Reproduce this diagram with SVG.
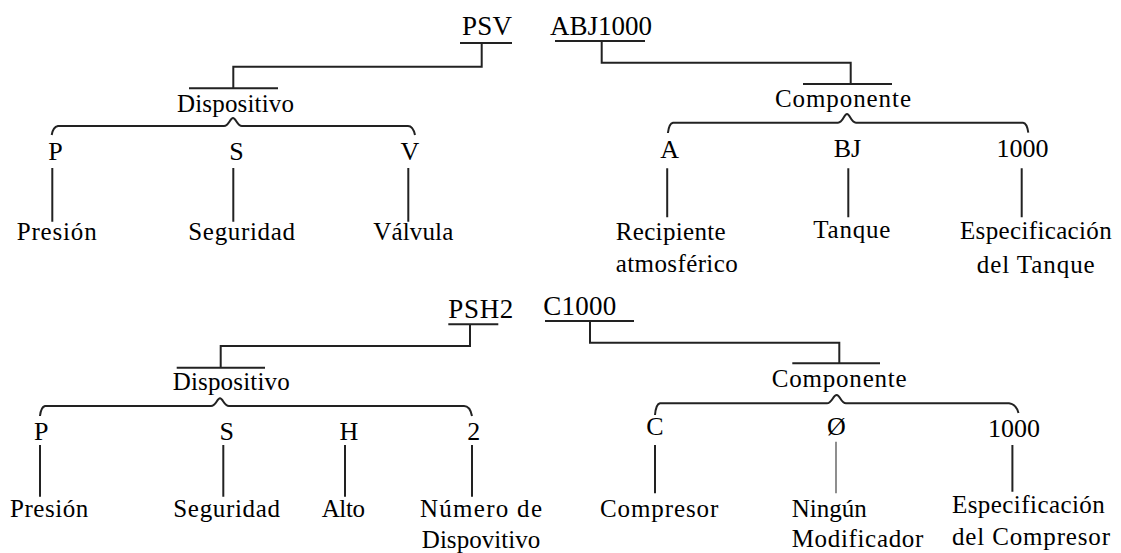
<svg xmlns="http://www.w3.org/2000/svg" width="1121" height="553" viewBox="0 0 1121 553" font-family="Liberation Serif, DejaVu Serif, serif">
<style>
text{font-family:'Liberation Serif','DejaVu Serif',serif;fill:#000;font-size:25px}
.code{font-size:27px}
.let{font-size:26px;text-anchor:middle}
.ln{stroke:#222;stroke-width:2;fill:none}
.thin{stroke:#444;stroke-width:1.2;fill:none}
</style>
<rect width="1121" height="553" fill="#fff"/>
<g id="connectors">
<path class="ln" d="M460,43H512M481.7,43V66.7H233.3V88.3M189,88.3H278"/>
<path class="ln" d="M555,41H645M601.7,41V62.7H850.7V84M803,84H892"/>
<path class="ln" d="M51.7,135Q53,127 58,126H224C229,126 230,118 233,118C236,118 237,126 242,126H408Q413,126 415,135"/>
<path class="ln" d="M667.9,133Q669,123.5 673,122.7H838C843,122.7 844,114 847,114C850,114 851,122.7 856,122.7H1023Q1027,123 1028.3,132.7"/>
<path class="ln" d="M52.3,168V221.7M233.3,168V221.7M408.3,168V221.7"/>
<path class="ln" d="M667.2,168.3V217.3M848.3,168.3V217.3M1021.7,168.3V217.3"/>
<path class="ln" d="M448.3,324.3H498.3M470,324.3V346H220.7V367.7M176.7,367.7H265"/>
<path class="ln" d="M545,321H634M590,321V342.7H839.3V363.3M792.3,363.3H880"/>
<path class="ln" d="M40,416Q41,407 45,406H211C216,406 217,398.3 220,398.3C223,398.3 224,406 229,406H464Q470,406 472,416"/>
<path class="ln" d="M655,415Q656,404 660,403.3H827C832,403.3 833,395 836.7,395C840,395 841,403.3 846,403.3H1009Q1016,404 1018.5,413"/>
<path class="ln" d="M40,445V496.7M223.3,445V496.7M345,445V496.7M472,445V496.7"/>
<path class="ln" d="M655,445V493.3M1012.4,445V491.7"/>
<path class="thin" d="M836,441.7V493.3"/>
</g>
<g id="n-psv"><text class="code" x="462" y="35" textLength="50">PSV</text></g>
<g id="n-abj1000"><text class="code" x="550" y="35" textLength="102">ABJ1000</text></g>
<g id="n-dispositivo1"><text x="177" y="111.7" textLength="117">Dispositivo</text></g>
<g id="n-componente1"><text x="775" y="106.7" textLength="136">Componente</text></g>
<g id="n-p1"><text class="let" x="55.5" y="160">P</text></g>
<g id="n-s1"><text class="let" x="236.5" y="160">S</text></g>
<g id="n-v1"><text class="let" x="410" y="160">V</text></g>
<g id="n-a"><text class="let" x="669.7" y="158.3">A</text></g>
<g id="n-bj"><text class="let" x="847.5" y="156.7">BJ</text></g>
<g id="n-1000a"><text class="let" x="1022.5" y="156.7">1000</text></g>
<g id="n-presion1"><text x="16.7" y="240" textLength="80">Presión</text></g>
<g id="n-seguridad1"><text x="188.3" y="240" textLength="106.7">Seguridad</text></g>
<g id="n-valvula"><text x="373.3" y="240" textLength="80">Válvula</text></g>
<g id="n-recipiente"><text x="615.7" y="240" textLength="110">Recipiente</text><text x="615.7" y="271.7" textLength="122">atmosférico</text></g>
<g id="n-tanque"><text x="813.3" y="238.3" textLength="77">Tanque</text></g>
<g id="n-espec1"><text x="960" y="239" textLength="151.7">Especificación</text><text x="976.7" y="273.3" textLength="118">del Tanque</text></g>
<g id="n-psh2"><text class="code" x="448.3" y="318.3" textLength="65">PSH2</text></g>
<g id="n-c1000"><text class="code" x="543.3" y="315" textLength="73">C1000</text></g>
<g id="n-dispositivo2"><text x="172.7" y="390" textLength="117">Dispositivo</text></g>
<g id="n-componente2"><text x="771.7" y="386.7" textLength="135">Componente</text></g>
<g id="n-p2"><text class="let" x="41.3" y="440">P</text></g>
<g id="n-s2"><text class="let" x="226.7" y="440">S</text></g>
<g id="n-h"><text class="let" x="349" y="440">H</text></g>
<g id="n-2"><text class="let" x="473.8" y="440">2</text></g>
<g id="n-c"><text class="let" x="655" y="435">C</text></g>
<g id="n-null"><text class="let" x="836.3" y="435">Ø</text></g>
<g id="n-1000b"><text class="let" x="1014" y="437">1000</text></g>
<g id="n-presion2"><text x="10" y="516.7" textLength="78.3">Presión</text></g>
<g id="n-seguridad2"><text x="173.3" y="516.7" textLength="106.7">Seguridad</text></g>
<g id="n-alto"><text x="321.7" y="516.7" textLength="43.3">Alto</text></g>
<g id="n-numero"><text x="420" y="516.7" textLength="122">Número de</text><text x="421.8" y="548.3" textLength="118.4">Dispovitivo</text></g>
<g id="n-compresor"><text x="600" y="516.7" textLength="118.3">Compresor</text></g>
<g id="n-ningun"><text x="791.7" y="516.7" textLength="75">Ningún</text><text x="791.7" y="546.7" textLength="131.6">Modificador</text></g>
<g id="n-espec2"><text x="952" y="513" textLength="152.8">Especificación</text><text x="952" y="545" textLength="158">del Compresor</text></g>
</svg>
